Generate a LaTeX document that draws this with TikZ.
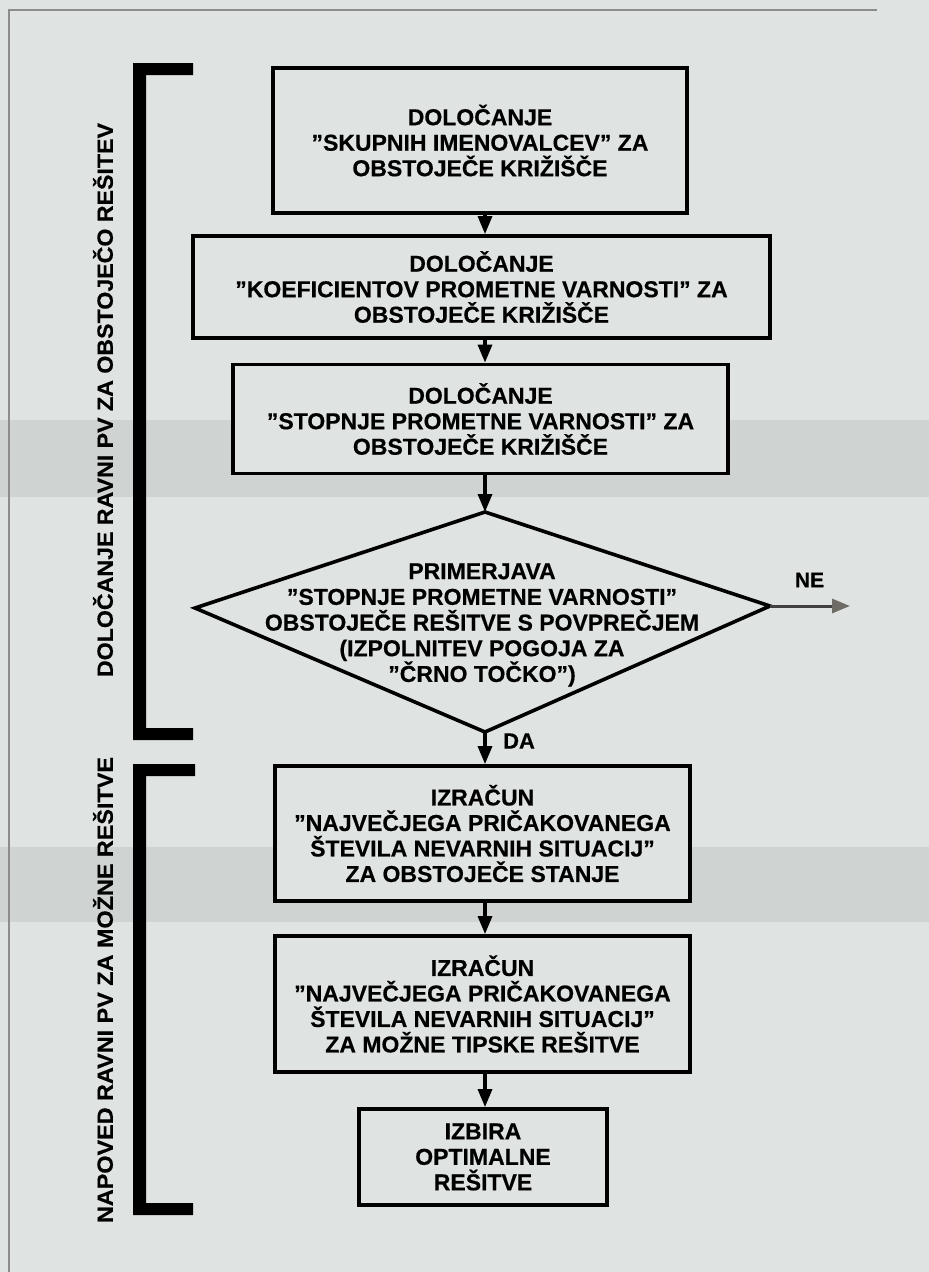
\documentclass[tikz,border=0pt]{standalone}
\usepackage{fontspec}
\usepackage{graphicx}
\setmainfont{Liberation Sans}
\newfontfamily\heavyfont[FakeBold=0.5]{Liberation Sans Bold}
\usetikzlibrary{arrows.meta}
\definecolor{paper}{RGB}{223,227,225}
\definecolor{band}{RGB}{207,211,209}
\definecolor{rulegray}{RGB}{140,140,140}
\definecolor{inkgray}{RGB}{110,108,100}
\tikzset{
  boxstyle/.style={draw=black, line width=3.8pt, fill=paper, inner sep=0pt, align=center,
    font=\fontsize{23}{25.5}\selectfont\heavyfont},
  dtextstyle/.style={inner sep=0pt, align=center, font=\fontsize{23}{25.7}\selectfont\heavyfont},
  flow/.style={line width=3.3pt, -{Triangle[length=18pt,width=14pt]}},
  sidelabel/.style={rotate=90, inner sep=0pt, font=\fontsize{22}{22}\selectfont\heavyfont},
  smalllabel/.style={inner sep=0pt, font=\fontsize{21}{21}\selectfont\heavyfont}
}
\begin{document}
\begin{tikzpicture}[x=1pt,y=-1pt]
\useasboundingbox (0,0) rectangle (929,1272);
\fill[paper] (0,0) rectangle (929,1272);
\fill[band] (0,420) rectangle (929,497);
\fill[band] (0,847) rectangle (929,922);
\draw[rulegray, line width=1.2pt] (877,10) -- (9,10) -- (9,1272);

% brackets
\fill[black] (133,63) -- (193,63) -- (193,75) -- (146,75) -- (146,728) -- (193,728) -- (193,740) -- (133,740) -- cycle;
\fill[black] (133,764) -- (195,764) -- (195,776) -- (146,776) -- (146,1203) -- (193,1203) -- (193,1215) -- (133,1215) -- cycle;

\node[sidelabel] (lab1) at (103,400) {\resizebox{554pt}{\height}{DOLOČANJE RAVNI PV ZA OBSTOJEČO REŠITEV}};
\node[sidelabel] (lab2) at (103,990) {\resizebox{466pt}{\height}{NAPOVED RAVNI PV ZA MOŽNE REŠITVE}};

% boxes
\node[boxstyle, minimum width=414pt, minimum height=145pt] (b1) at (480,140.5)
  {DOLOČANJE\\”SKUPNIH IMENOVALCEV” ZA\\OBSTOJEČE KRIŽIŠČE};
\node[boxstyle, minimum width=577pt, minimum height=102pt] (b2) at (481.5,287)
  {DOLOČANJE\\”KOEFICIENTOV PROMETNE VARNOSTI” ZA\\OBSTOJEČE KRIŽIŠČE};
\node[boxstyle, minimum width=495pt, minimum height=109pt] (b3) at (480.5,419)
  {DOLOČANJE\\”STOPNJE PROMETNE VARNOSTI” ZA\\OBSTOJEČE KRIŽIŠČE};

% decision diamond
\coordinate (dt) at (485,512);
\coordinate (dr) at (770,606);
\coordinate (db) at (485,732);
\coordinate (dl) at (195,608);
\filldraw[fill=paper, draw=black, line width=3.6pt, line join=miter] (dt) -- (dr) -- (db) -- (dl) -- cycle;
\node[dtextstyle] (dtext) at (482,625)
  {PRIMERJAVA\\”STOPNJE PROMETNE VARNOSTI”\\OBSTOJEČE REŠITVE S POVPREČJEM\\(IZPOLNITEV POGOJA ZA\\”ČRNO TOČKO”)};

\node[boxstyle, minimum width=415pt, minimum height=135pt] (b4) at (482.5,833.5)
  {IZRAČUN\\”NAJVEČJEGA PRIČAKOVANEGA\\ŠTEVILA NEVARNIH SITUACIJ”\\ZA OBSTOJEČE STANJE};
\node[boxstyle, minimum width=415pt, minimum height=136pt] (b5) at (482.5,1004)
  {IZRAČUN\\”NAJVEČJEGA PRIČAKOVANEGA\\ŠTEVILA NEVARNIH SITUACIJ”\\ZA MOŽNE TIPSKE REŠITVE};
\node[boxstyle, minimum width=248pt, minimum height=96pt] (b6) at (483,1157)
  {IZBIRA\\OPTIMALNE\\REŠITVE};

% connectors
\coordinate (ax) at (485,0);
\draw[flow] (b1.south -| ax) -- (b2.north -| ax);
\draw[flow] (b2.south -| ax) -- (b3.north -| ax);
\draw[flow] (b3.south -| ax) -- (dt);
\draw[flow] (db) -- (b4.north -| ax);
\draw[flow] (b4.south -| ax) -- (b5.north -| ax);
\draw[flow] (b5.south -| ax) -- (b6.north -| ax);
\coordinate (neend) at (850,606);
\draw[line width=3pt, draw=black!75, -{Triangle[length=18pt,width=14pt,color=inkgray]}] (dr) -- (neend);

\node[smalllabel] (ne) at (809.5,580) {NE};
\node[smalllabel, font=\fontsize{22}{22}\selectfont\heavyfont] (da) at (519,741) {DA};
\end{tikzpicture}
\end{document}
